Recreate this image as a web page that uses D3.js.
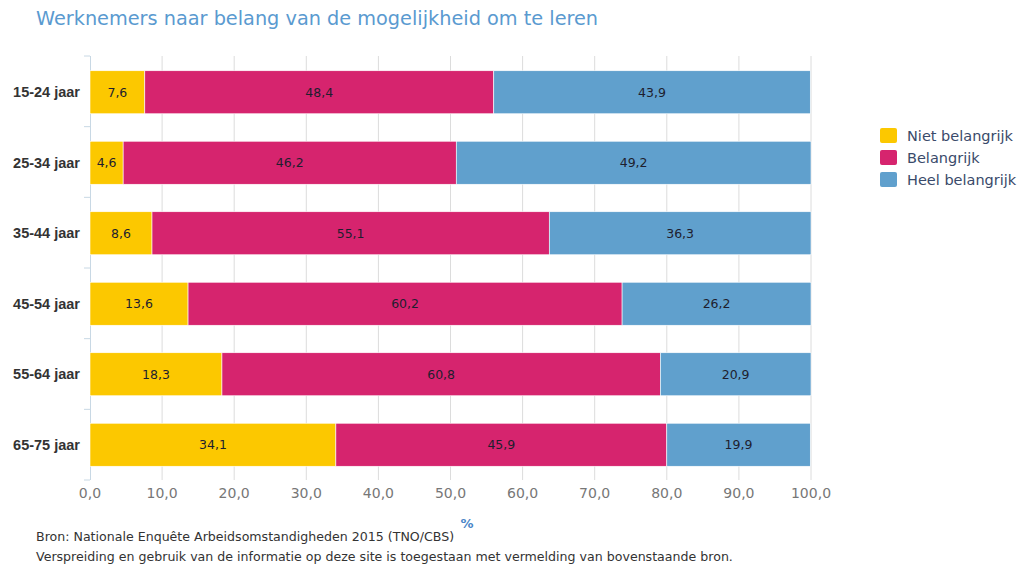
<!DOCTYPE html>
<html>
<head>
<meta charset="utf-8">
<script src="https://cdn.jsdelivr.net/npm/d3@7"></script>
<style>
  body { margin: 0; background: #fff; }
  svg text { font-family: "DejaVu Sans", Verdana, sans-serif; }
</style>
</head>
<body>
<svg id="chart" width="1019" height="568"></svg>
<script>
// data
var ageGroups = ["15-24 jaar", "25-34 jaar", "35-44 jaar", "45-54 jaar", "55-64 jaar", "65-75 jaar"];
var nietBelangrijk = [7.6, 4.6, 8.6, 13.6, 18.3, 34.1];
var belangrijk = [48.4, 46.2, 55.1, 60.2, 60.8, 45.9];
var heelBelangrijk = [43.9, 49.2, 36.3, 26.2, 20.9, 19.9];
var seriesNames = ["Niet belangrijk", "Belangrijk", "Heel belangrijk"];
var seriesColors = ["#fcc800", "#d6246e", "#60a0cd"];
var xTicks = [0, 10, 20, 30, 40, 50, 60, 70, 80, 90, 100];

var rows = ageGroups.map(function(g, i) {
    return { group: g, values: [nietBelangrijk[i], belangrijk[i], heelBelangrijk[i]] };
});

var svg = d3.select("#chart");
var fmt = function(v) { return d3.format(".1f")(v).replace(".", ","); };

var x = d3.scaleLinear().domain([0, 100]).range([90, 811]);
var y = d3.scaleBand().domain(ageGroups).range([57, 480]).paddingInner(0.39).paddingOuter(0.195);
var yTick = d3.scaleLinear().domain([0, ageGroups.length]).range([56, 480]);

// title
svg.append("text")
    .attr("x", 36).attr("y", 25)
    .attr("fill", "#5a9ad0")
    .style("font-size", "19.3px")
    .text("Werknemers naar belang van de mogelijkheid om te leren");

// grid lines
svg.append("g").selectAll("line")
    .data(xTicks.slice(1))
    .enter().append("line")
    .attr("x1", function(d) { return x(d); })
    .attr("x2", function(d) { return x(d); })
    .attr("y1", 56).attr("y2", 480)
    .attr("stroke", "#dcdcdc").attr("stroke-width", 1);

// y axis line and ticks
svg.append("line")
    .attr("x1", 90.5).attr("x2", 90.5).attr("y1", 56).attr("y2", 480)
    .attr("stroke", "#c8d8e4");
svg.append("g").selectAll("line")
    .data(d3.range(ageGroups.length + 1))
    .enter().append("line")
    .attr("x1", 84).attr("x2", 90)
    .attr("y1", function(d) { return yTick(d); })
    .attr("y2", function(d) { return yTick(d); })
    .attr("stroke", "#c8d8e4");

// x tick labels
svg.append("g").selectAll("text")
    .data(xTicks)
    .enter().append("text")
    .attr("x", function(d) { return x(d); })
    .attr("y", 498)
    .attr("text-anchor", "middle")
    .attr("fill", "#777")
    .style("font-size", "14px")
    .text(function(d) { return fmt(d); });

// category labels
svg.append("g").selectAll("text")
    .data(ageGroups)
    .enter().append("text")
    .attr("x", 80)
    .attr("y", function(d) { return y(d) + y.bandwidth() / 2; })
    .attr("dy", "0.35em")
    .attr("text-anchor", "end")
    .attr("fill", "#333")
    .style("font-family", "'Liberation Sans', Arial, sans-serif")
    .style("font-size", "14.5px")
    .style("font-weight", "bold")
    .text(function(d) { return d; });

// stacked bars
var rowG = svg.append("g").selectAll("g")
    .data(rows)
    .enter().append("g")
    .attr("transform", function(d) { return "translate(0," + y(d.group) + ")"; });

rowG.each(function(d) {
    var g = d3.select(this);
    var start = 0;
    d.values.forEach(function(v, k) {
        var x0 = start, x1 = Math.min(100, start + v);
        g.append("rect")
            .attr("x", x(x0))
            .attr("width", x(x1) - x(x0))
            .attr("y", 0)
            .attr("height", y.bandwidth())
            .attr("fill", seriesColors[k])
            .attr("stroke", "#fff").attr("stroke-width", 0.6);
        g.append("text")
            .attr("x", (x(x0) + x(x1)) / 2)
            .attr("y", y.bandwidth() / 2)
            .attr("dy", "0.35em")
            .attr("text-anchor", "middle")
            .attr("fill", "#1e1e2e")
            .style("font-size", "12.5px")
            .text(fmt(v));
        start += v;
    });
});

// legend
var legend = svg.append("g").attr("transform", "translate(880,128)");
seriesNames.forEach(function(name, k) {
    legend.append("rect")
        .attr("x", 0).attr("y", k * 22)
        .attr("width", 17).attr("height", 15)
        .attr("rx", 2)
        .attr("fill", seriesColors[k]);
    legend.append("text")
        .attr("x", 27).attr("y", k * 22 + 7.5)
        .attr("dy", "0.35em")
        .attr("fill", "#3a4a6a")
        .style("font-size", "14.5px")
        .text(name);
});

// axis unit
svg.append("text")
    .attr("x", 467).attr("y", 528)
    .attr("text-anchor", "middle")
    .attr("fill", "#4a86c8")
    .style("font-size", "13px")
    .style("font-weight", "bold")
    .text("%");

// source
svg.append("text")
    .attr("x", 36).attr("y", 541)
    .attr("fill", "#333")
    .style("font-size", "12.6px")
    .text("Bron: Nationale Enquête Arbeidsomstandigheden 2015 (TNO/CBS)");
svg.append("text")
    .attr("x", 36).attr("y", 561)
    .attr("fill", "#333")
    .style("font-size", "12.6px")
    .text("Verspreiding en gebruik van de informatie op deze site is toegestaan met vermelding van bovenstaande bron.");
</script>
</body>
</html>
